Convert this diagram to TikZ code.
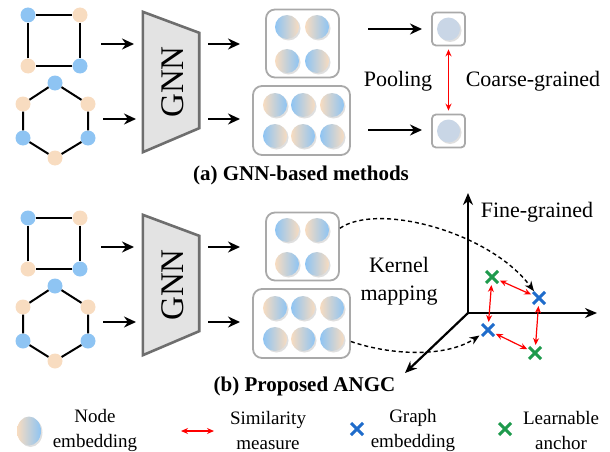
\documentclass[tikz,border=0pt]{standalone}
\usepackage{fontspec}
\setmainfont{Liberation Serif}
\usetikzlibrary{arrows.meta,shadows,shapes.geometric,shapes.misc}

\definecolor{nblue}{HTML}{8EC4F3}
\definecolor{npeach}{HTML}{F8DCC0}
\definecolor{poolfill}{HTML}{C9D6E6}
\definecolor{boxgray}{HTML}{A9A9A9}
\definecolor{gnnfill}{HTML}{E3E3E3}
\definecolor{gnngray}{HTML}{6E6E6E}
\definecolor{xblue}{HTML}{1F6CCB}
\definecolor{xgreen}{HTML}{1E9A4C}

\begin{document}
\begin{tikzpicture}
  [x=1pt, y=-1pt,
    bnode/.style={circle, fill=nblue, minimum size=15pt, inner sep=0pt},
    pnode/.style={circle, fill=npeach, minimum size=15pt, inner sep=0pt},
    gline/.style={draw=black, line width=2pt},
    flow/.style={-{Stealth[length=12pt, width=11pt]}, line width=2.6pt},
    gnn/.style={draw=gnngray, fill=gnnfill, line width=2.6pt, line join=miter},
    gnnbox/.style={rectangle, minimum width=56pt, minimum height=140pt, inner sep=0pt},
    embbox/.style={rectangle, rounded corners=9pt, draw=boxgray, line width=1.8pt, fill=white, inner sep=0pt},
    bp/.style={circle, minimum size=24pt, inner sep=0pt, left color=nblue, right color=npeach,
               drop shadow={shadow xshift=1.5pt, shadow yshift=-1.5pt, opacity=0.25}},
    pb/.style={bp, left color=npeach, right color=nblue},
    poolbox/.style={rectangle, rounded corners=4pt, draw=boxgray, line width=1.8pt, fill=white, minimum size=33pt, inner sep=0pt},
    poolemb/.style={circle, fill=poolfill, minimum size=23pt, inner sep=0pt,
                    drop shadow={shadow xshift=1.5pt, shadow yshift=-1.5pt, opacity=0.25}},
    sim/.style={{Stealth[length=7pt, width=6pt]}-{Stealth[length=7pt, width=6pt]}, draw=red, line width=1.2pt},
    axis/.style={-{Stealth[length=12pt, width=10pt]}, line width=2.2pt},
    kmap/.style={-{Stealth[length=10pt, width=8pt]}, dash pattern=on 4pt off 3pt, line width=1.4pt},
    gemb/.style={cross out, draw=xblue, line width=3pt, minimum size=9pt, inner sep=0pt},
    anch/.style={gemb, draw=xgreen},
    txt/.style={font=\rmfamily\fontsize{22}{28}\selectfont, align=center, inner sep=0pt},
    captext/.style={font=\rmfamily\bfseries\fontsize{21}{25}\selectfont, inner sep=0pt},
    legtxt/.style={font=\rmfamily\fontsize{19}{25}\selectfont, align=center, inner sep=0pt},
    legemb/.style={ellipse, minimum width=24pt, minimum height=29pt, inner sep=0pt, left color=npeach, right color=nblue,
                   drop shadow={shadow xshift=1.5pt, shadow yshift=-1.5pt, opacity=0.25}}
  ]
  \useasboundingbox (0,0) rectangle (610,452);

  % graphs, GNN and node embeddings (both panels)
  \foreach \p/\dy in {a/0, b/203} {
    \begin{scope}[yshift=-\dy pt]
      % square
      \node[bnode] (s1\p) at (28,15) {};
      \node[pnode] (s2\p) at (80,15) {};
      \node[bnode] (s3\p) at (80,66) {};
      \node[pnode] (s4\p) at (28,66) {};
      \draw[gline] (s1\p) -- (s2\p) -- (s3\p) -- (s4\p) -- (s1\p);

      % hexagon
      \node[bnode] (h1\p) at (55,83) {};
      \node[pnode] (h2\p) at (88,104) {};
      \node[bnode] (h3\p) at (88,138) {};
      \node[pnode] (h4\p) at (55,158) {};
      \node[bnode] (h5\p) at (23,138) {};
      \node[pnode] (h6\p) at (23,104) {};
      \draw[gline] (h1\p) -- (h2\p) -- (h3\p) -- (h4\p) -- (h5\p) -- (h6\p) -- (h1\p);

      % GNN
      \node[gnnbox] (gnn\p) at (171,82) {};
      \draw[gnn] (gnn\p.north west) -- ([yshift=-21pt]gnn\p.north east)
              -- ([yshift=24pt]gnn\p.south east) -- (gnn\p.south west) -- cycle;
      \node[font=\rmfamily\fontsize{33}{33}\selectfont, rotate=90, inner sep=0pt] (gl\p) at ([xshift=2pt]gnn\p.center) {GNN};

      \draw[flow] (101,44) coordinate (in1\p) -- (134,44) coordinate (gi1\p);
      \draw[flow] (103,119) coordinate (in2\p) -- (136,119) coordinate (gi2\p);
      \draw[flow] (208,44) coordinate (go1\p) -- (240,44) coordinate (eb1\p);
      \draw[flow] (208,119) coordinate (go2\p) -- (240,119) coordinate (eb2\p);

      % node embeddings
      \node[embbox, minimum width=73pt, minimum height=68pt] (tbox\p) at (302.5,43.5) {};
      \node[embbox, minimum width=97pt, minimum height=69pt] (bbox\p) at (301.5,120.5) {};
      \foreach \cx/\cy/\st in {287/27/bp, 317/27/pb, 287/61/pb, 317/61/bp,
                               275/105/pb, 303/105/bp, 332/105/pb,
                               275/136/bp, 303/136/pb, 332/136/bp} {
        \node[\st] (e\p-\cx-\cy) at (\cx,\cy) {};
      }
    \end{scope}
  }

  % (a) pooling
  \node[poolbox] (pool1) at (448.5,29) {};
  \node[poolbox] (pool2) at (448.5,131) {};
  \node[poolemb] (pe1) at (pool1) {};
  \node[poolemb] (pe2) at (pool2) {};
  \draw[flow] (368,29) coordinate (pa1) -- (422,29) coordinate (pt1);
  \draw[flow] (368,130) coordinate (pa2) -- (422,130) coordinate (pt2);
  \draw[sim, shorten <=3pt, shorten >=3pt] (pool1) -- (pool2);
  \node[txt] (pooling) at (398,81) {Pooling};
  \node[txt] (coarse) at (533,81) {Coarse-grained};
  \node[captext] (capa) at (301,175) {(a) GNN-based methods};

  % (b) embedding space
  \coordinate (o) at (468,313);
  \draw[axis] (o) -- (468,193) coordinate (zt);
  \draw[axis] (o) -- (597,313) coordinate (xt);
  \draw[axis] (o) -- (405,373) coordinate (yt);

  \node[anch] (a1) at (492,277) {};
  \node[gemb] (g1) at (539,298) {};
  \node[gemb] (g2) at (488,330) {};
  \node[anch] (a2) at (535,353) {};
  \draw[sim, shorten <=2pt, shorten >=2pt] (a1) -- (g1);
  \draw[sim, shorten <=2pt, shorten >=2pt] (a1) -- (g2);
  \draw[sim, shorten <=2pt, shorten >=2pt] (g1) -- (a2);
  \draw[sim, shorten <=2pt, shorten >=2pt] (g2) -- (a2);

  \draw[kmap, shorten >=1pt] (tboxb.26) .. controls (378,202) and (490,232) .. (g1);
  \draw[kmap, shorten >=3pt] (bboxb.-20) .. controls (390,355) and (445,358) .. (g2);

  \node[txt] (kernel) at (399,281) {Kernel\\mapping};
  \node[txt] (fine) at (537,212) {Fine-grained};
  \node[captext] (capb) at (304.5,386) {(b) Proposed ANGC};

  % legend
  \node[legemb] (le) at (29,431) {};
  \node[legtxt] (l1) at (95,430) {Node\\embedding};
  \draw[sim] (181,431) coordinate (ls1) -- (214,431) coordinate (ls2);
  \node[legtxt] (l2) at (268,430) {Similarity\\measure};
  \node[gemb] (lg) at (357,429) {};
  \node[legtxt] (l3) at (413,430) {Graph\\embedding};
  \node[anch] (la) at (505,429) {};
  \node[legtxt] (l4) at (561,430) {Learnable\\anchor};

\end{tikzpicture}
\end{document}
